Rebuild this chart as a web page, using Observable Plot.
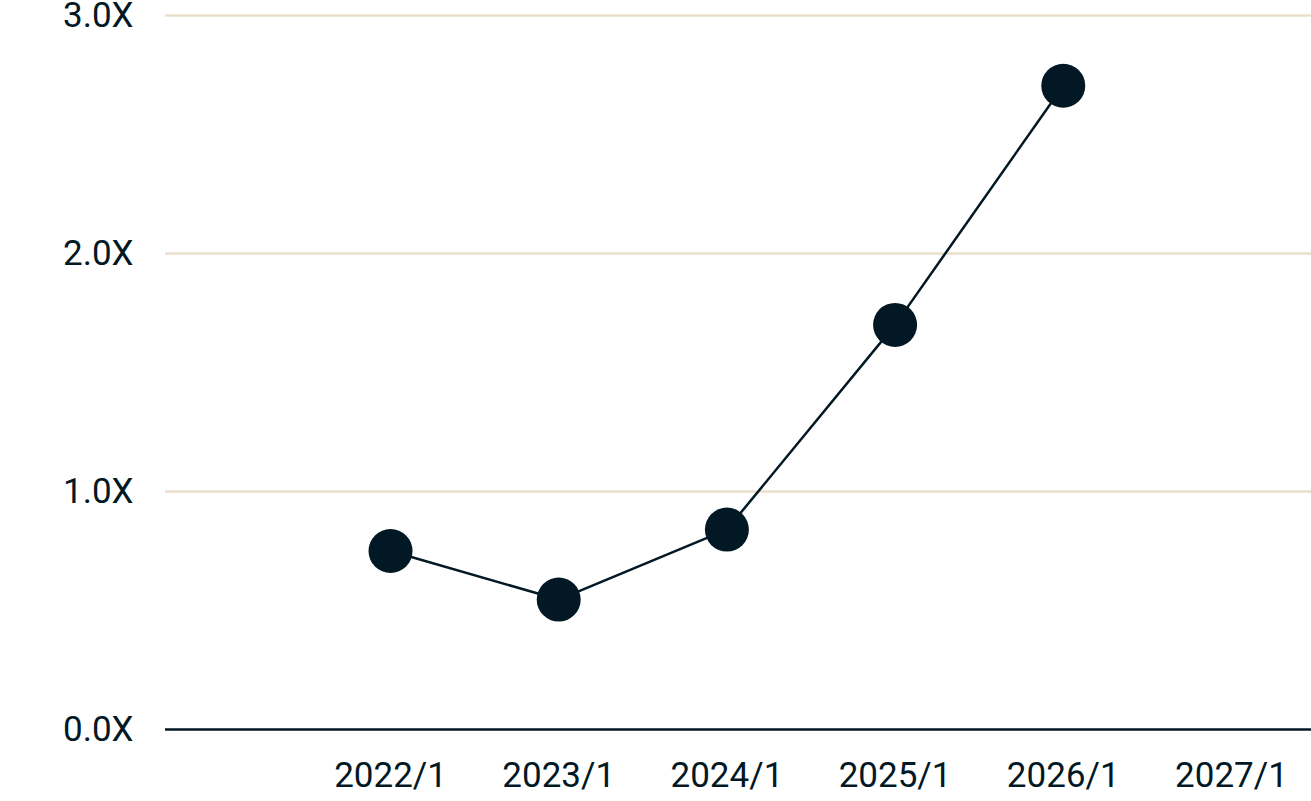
<!DOCTYPE html>
<html>
<head>
<meta charset="utf-8">
<script src="https://cdn.jsdelivr.net/npm/d3@7"></script>
<script src="https://cdn.jsdelivr.net/npm/@observablehq/plot@0.6"></script>
<style>
  html, body { margin: 0; padding: 0; background: #ffffff; }
  #chart svg { display: block; overflow: visible; }
</style>
</head>
<body>
<div id="chart"></div>
<script>
const years = [2022, 2023, 2024, 2025, 2026];
const values = [0.75, 0.546, 0.84, 1.70, 2.705];
const xTicks = [2022, 2023, 2024, 2025, 2026, 2027];
const yTicks = [0, 1, 2, 3];
const gridValues = [1, 2, 3];

const data = years.map((y, i) => ({year: y, value: values[i]}));
const ink = "#021824";

const chart = Plot.plot({
  width: 1311,
  height: 801,
  marginLeft: 165,
  marginRight: 0,
  marginTop: 15,
  marginBottom: 72,
  style: {fontFamily: "Roboto, sans-serif", fontSize: "35px", color: ink, background: "#ffffff"},
  x: {domain: [2020.662, 2027.476], label: null},
  y: {domain: [0, 3], label: null},
  marks: [
    Plot.ruleY(gridValues, {stroke: "#eadfca", strokeWidth: 2.5}),
    Plot.ruleY([0], {stroke: ink, strokeWidth: 2.5}),
    Plot.axisY(yTicks, {tickSize: 0, tickPadding: 32, tickFormat: d => d.toFixed(1) + "X", fill: ink, fontSize: 35, label: null}),
    Plot.axisX(xTicks, {tickSize: 0, tickPadding: 33, tickFormat: d => `${d}/1`, fill: ink, fontSize: 35, label: null}),
    Plot.line(data, {x: "year", y: "value", stroke: ink, strokeWidth: 2.5}),
    Plot.dot(data, {x: "year", y: "value", r: 22, fill: ink, stroke: "none"})
  ]
});
document.getElementById("chart").appendChild(chart);
</script>
</body>
</html>
